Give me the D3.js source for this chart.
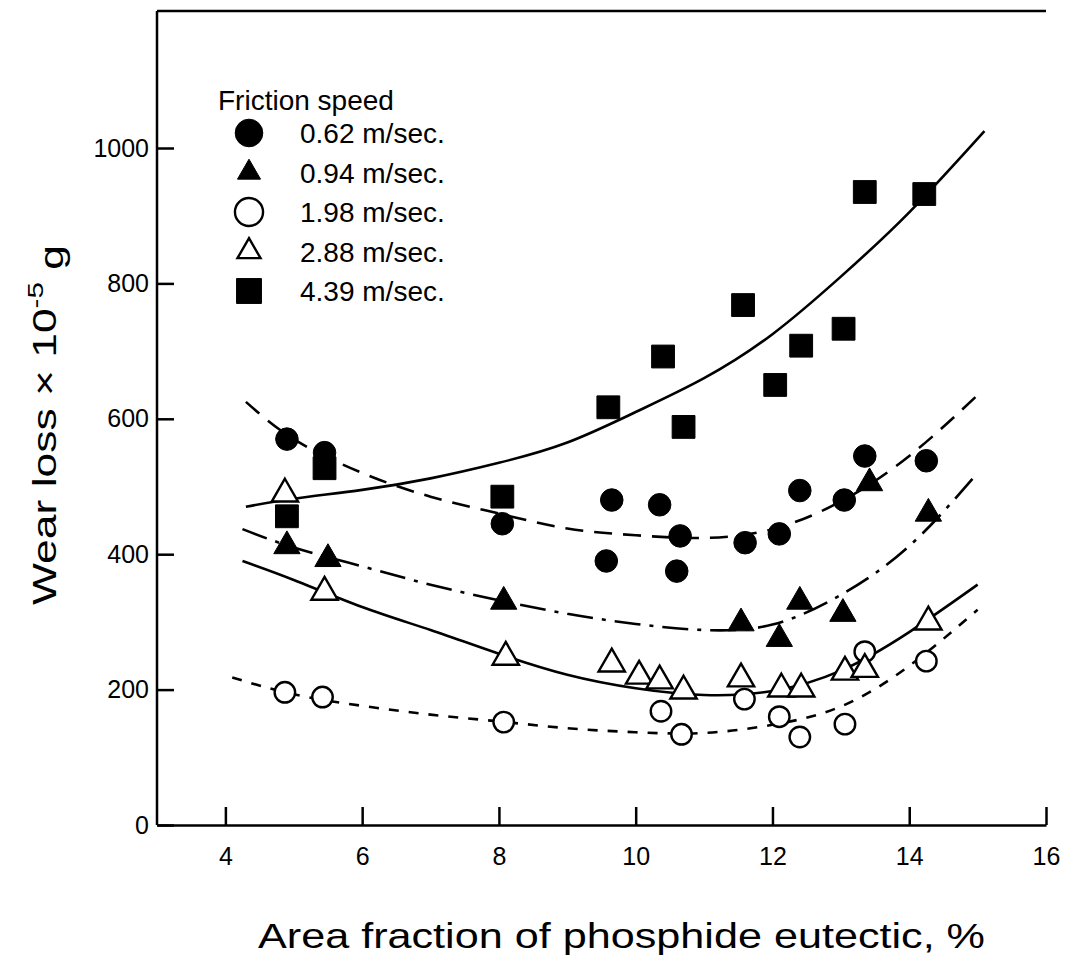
<!DOCTYPE html>
<html>
<head>
<meta charset="utf-8">
<script src="https://cdn.jsdelivr.net/npm/d3@7"></script>
<style>
  body { margin: 0; background: #fff; }
  text { font-family: "Liberation Sans", Arial, sans-serif; fill: #000; }
</style>
</head>
<body>
<div id="viz"></div>
<script>

// data: [area fraction %, wear loss x1e-5 g]

const speeds = ["0.62 m/sec.", "0.94 m/sec.", "1.98 m/sec.", "2.88 m/sec.", "4.39 m/sec."];

const pts062 = [[4.9,570],[5.45,550],[8.05,445],[9.65,480],[10.35,473],[10.65,427],[9.57,390],[10.6,375],[11.6,417],[12.1,430],[12.4,494],[13.05,480],[13.35,545],[14.25,538]];
const pts094 = [[4.9,412],[5.5,393],[8.07,330],[11.54,298],[12.1,275],[12.4,330],[13.03,312],[13.42,505],[14.28,460]];
const pts198 = [[4.87,196],[5.42,189],[8.07,152],[10.37,168],[10.67,134],[11.59,186],[12.1,160],[12.4,130],[13.06,149],[13.35,256],[14.25,242]];
const pts288 = [[4.87,489],[5.45,344],[8.1,248],[9.65,238],[10.05,220],[10.35,213],[10.7,198],[11.54,216],[12.13,201],[12.42,201],[13.06,226],[13.35,230],[14.28,300]];
const pts439 = [[4.9,456],[5.45,527],[8.05,485],[9.6,617],[10.4,692],[10.7,588],[11.57,768],[12.04,650],[12.42,708],[13.04,733],[13.35,935],[14.22,932]];

// fitted curves
const curve062 = [[4.3,625],[5,570],[6,520],[7,485],[8,460],[9,438],[10,428],[11,424],[12,437],[13,478],[14,545],[15,635]];
const curve094 = [[4.25,437],[5,410],[6,382],[7,355],[8,332],[9,312],[10,297],[11,288],[12,296],[13,340],[14,412],[15,520]];
const curve198 = [[4.1,218],[5,193],[6,176],[7,163],[8,153],[9,143],[10,137],[11,136],[12,148],[13,175],[14,235],[15,318]];
const curve288 = [[4.25,390],[5,362],[6,322],[7,288],[8,253],[9,222],[10,202],[11,192],[12,198],[13,228],[14,285],[15,355]];
const curve439 = [[4.3,470],[5,482],[6,495],[7,512],[8,535],[9,565],[10,610],[11,660],[12,725],[13,810],[14,905],[15.1,1025]];

const xTicks = [4, 6, 8, 10, 12, 14, 16];
const yTicks = [0, 200, 400, 600, 800, 1000];

function draw() {

  // dimensions

  const dms = {
    width: 1068,
    height: 959,
    left: 157,
    right: 1046,
    top: 11,
    bottom: 825
  };

  const svg = d3.select("#viz")
                  .append("svg")
                    .attr("width", dms.width)
                    .attr("height", dms.height);

  // scales

  const xScale = d3.scaleLinear().domain([3, 16]).range([dms.left, dms.right]);
  const yScale = d3.scaleLinear().domain([0, 1000]).range([dms.bottom, 148]);

  // axes

  const xAxis = d3.axisBottom(xScale)
                    .tickValues(xTicks)
                    .tickFormat(d => d)
                    .tickSizeInner(-18)
                    .tickSizeOuter(0)
                    .tickPadding(22);

  const yAxis = d3.axisLeft(yScale)
                    .tickValues(yTicks)
                    .tickFormat(d => d)
                    .tickSizeInner(-17)
                    .tickSizeOuter(0)
                    .tickPadding(8);

  const xG = svg.append("g")
                  .attr("transform", `translate(0, ${dms.bottom})`)
                  .call(xAxis);

  const yG = svg.append("g")
                  .attr("transform", `translate(${dms.left}, 0)`)
                  .call(yAxis);

  // stretch the y domain line up to the top frame
  yG.select(".domain").attr("d", `M0,${dms.bottom}V${dms.top}`);

  [xG, yG].forEach(g => {
    g.select(".domain").attr("stroke", "#000").attr("stroke-width", 2.5);
    g.selectAll(".tick line").attr("stroke", "#000").attr("stroke-width", 2.5);
    g.selectAll(".tick text")
        .style("font-family", "'Liberation Sans', Arial, sans-serif")
        .style("font-size", "25px")
        .attr("fill", "#000");
  });

  // top frame line
  svg.append("line")
       .attr("x1", dms.left).attr("x2", dms.right)
       .attr("y1", dms.top).attr("y2", dms.top)
       .attr("stroke", "#000")
       .attr("stroke-width", 2.5);

  // axis titles

  svg.append("text")
       .attr("x", 258)
       .attr("y", 948)
       .attr("textLength", 727)
       .attr("lengthAdjust", "spacingAndGlyphs")
       .style("font-size", "35px")
       .text("Area fraction of phosphide eutectic, %");

  const yTitle = svg.append("text")
                      .attr("transform", "translate(56, 605) rotate(-90)")
                      .attr("textLength", 360)
                      .attr("lengthAdjust", "spacingAndGlyphs")
                      .style("font-size", "33px");
  yTitle.append("tspan").text("Wear loss  \u00d7 10");
  yTitle.append("tspan").attr("dy", "-0.6em").style("font-size", "22px").text("-5");
  yTitle.append("tspan").attr("dy", "0.6em").text(" g");

  // curves

  const line = d3.line()
                   .x(d => xScale(d[0]))
                   .y(d => yScale(d[1]))
                   .curve(d3.curveNatural);

  const curves = [
    { data: curve062, dash: "18,11" },
    { data: curve094, dash: "26,9,4,9" },
    { data: curve198, dash: "10,10" },
    { data: curve288, dash: null },
    { data: curve439, dash: null }
  ];

  svg.selectAll("path.curve")
       .data(curves)
       .enter()
       .append("path")
         .attr("class", "curve")
         .attr("d", d => line(d.data))
         .attr("fill", "none")
         .attr("stroke", "#000")
         .attr("stroke-width", 2.6)
         .attr("stroke-dasharray", d => d.dash);

  // markers

  const styles = [
    { type: d3.symbolCircle,   size: 400, fill: "#000", legendSize: 600 },
    { type: d3.symbolTriangle, size: 300, fill: "#000", legendSize: 230 },
    { type: d3.symbolCircle,   size: 330, fill: "#fff", legendSize: 620 },
    { type: d3.symbolTriangle, size: 300, fill: "#fff", legendSize: 230 },
    { type: d3.symbolSquare,   size: 520, fill: "#000", legendSize: 620 }
  ];

  const series = [pts062, pts094, pts198, pts288, pts439];

  series.forEach((pts, i) => {
    const st = styles[i];
    svg.append("g")
         .selectAll("path")
         .data(pts)
         .enter()
         .append("path")
           .attr("transform", d => `translate(${xScale(d[0])}, ${yScale(d[1])})`)
           .attr("d", d3.symbol().type(st.type).size(st.size))
           .attr("fill", st.fill)
           .attr("stroke", "#000")
           .attr("stroke-width", st.fill === "#fff" ? 2.4 : 1);
  });

  // legend

  const legend = svg.append("g").attr("transform", "translate(218, 0)");

  legend.append("text")
          .attr("x", 0)
          .attr("y", 110)
          .style("font-size", "28px")
          .text("Friction speed");

  const rows = legend.selectAll("g.row")
                       .data(speeds)
                       .enter()
                       .append("g")
                         .attr("class", "row")
                         .attr("transform", (d, i) => `translate(0, ${133 + i * 39.5})`);

  rows.append("path")
        .attr("transform", "translate(31, 0)")
        .attr("d", (d, i) => d3.symbol().type(styles[i].type).size(styles[i].legendSize)())
        .attr("fill", (d, i) => styles[i].fill)
        .attr("stroke", "#000")
        .attr("stroke-width", (d, i) => styles[i].fill === "#fff" ? 2.4 : 1);

  rows.append("text")
        .attr("x", 82)
        .attr("dy", "0.36em")
        .style("font-size", "28px")
        .text(d => d);
}

draw();
</script>
</body>
</html>
